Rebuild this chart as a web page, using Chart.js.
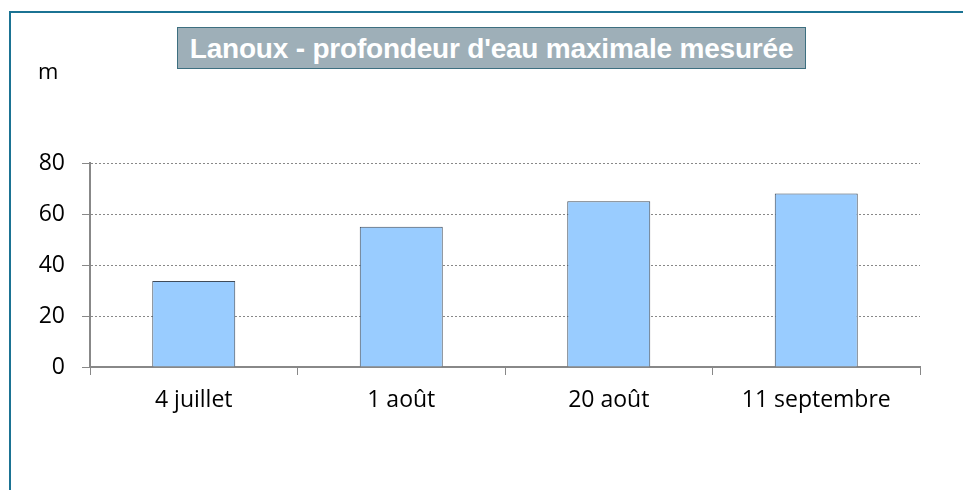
<!DOCTYPE html>
<html>
<head>
<meta charset="utf-8">
<script src="https://cdn.jsdelivr.net/npm/chart.js@4"></script>
<style>
  body { margin: 0; background: #fff; overflow: hidden; }
  #wrap { position: relative; width: 963px; height: 490px; }
  #cadre { position: absolute; left: 9px; top: 11px; width: 1000px; height: 600px; border: 2px solid #1b7393; }
  #titre { position: absolute; left: 177px; top: 27px; width: 627px; height: 40px; background: #9eafb8;
           border: 1px solid #3d6f80; color: #fff; font: bold 28px "Liberation Sans", Arial, sans-serif;
           text-align: center; line-height: 41px; letter-spacing: -0.2px; }
  #unite { position: absolute; left: 38px; top: 55px; font: 22px "Open Sans", sans-serif; color: #000; }
  canvas { position: absolute; left: 0; top: 0; }
</style>
</head>
<body>
<div id="wrap">
  <div id="cadre"></div>
  <canvas id="myChart" width="963" height="490"></canvas>
  <div id="titre">Lanoux - profondeur d'eau maximale mesurée</div>
  <div id="unite">m</div>
</div>
<script>
const dates = ['4 juillet', '1 août', '20 août', '11 septembre']
const profondeur = [33.7, 55, 65, 68]
const graduations = [0, 20, 40, 60, 80]

const ctx = document.getElementById('myChart')

const data = {
    labels: dates,
    datasets: [{
        data: profondeur,
        backgroundColor: '#99ccff',
        borderColor: '#3f4b5a',
        borderWidth: 1,
        borderSkipped: 'bottom',
        barPercentage: 0.4,
        categoryPercentage: 1
    }]
}

const config = {
    type: 'bar',
    data,
    options: {
        responsive: false,
        animation: false,
        layout: { padding: { left: 0, right: 43, top: 163, bottom: 0 } },
        plugins: { legend: { display: false }, tooltip: { enabled: false } },
        scales: {
            x: {
                offset: true,
                grid: { offset: true, drawOnChartArea: false, tickLength: 8, color: '#888', lineWidth: 1 },
                border: { color: '#888', width: 2 },
                ticks: { color: '#000', padding: 12, font: { family: 'Open Sans', size: 23 } },
                afterFit: function (scale) { scale.height = 123 }
            },
            y: {
                min: 0,
                max: 80,
                afterBuildTicks: function (scale) { scale.ticks = graduations.map(v => ({ value: v })) },
                grid: { color: '#888', tickLength: 8, tickColor: '#888', tickBorderDash: [] },
                border: { color: '#888', width: 2, dash: [2, 2] },
                ticks: { color: '#000', padding: 17, font: { family: 'Open Sans', size: 23 } },
                afterFit: function (scale) { scale.width = 90 }
            }
        }
    }
}
const myChart = new Chart(ctx, config)
</script>
</body>
</html>
